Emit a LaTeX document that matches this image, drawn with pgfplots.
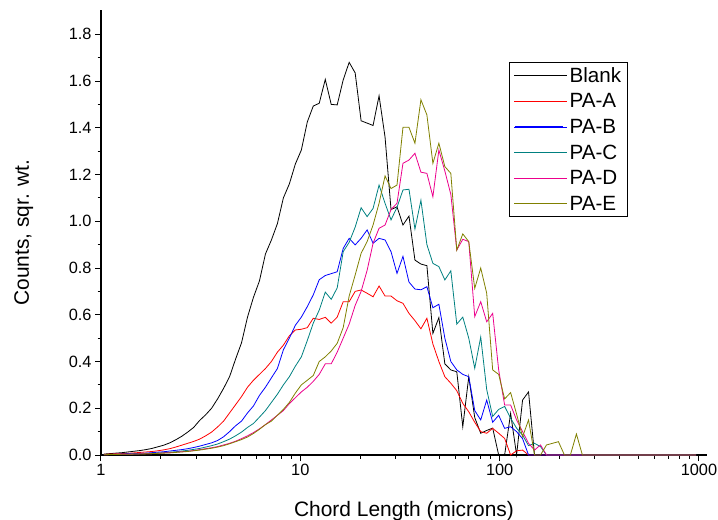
\documentclass[border=0pt]{standalone}
\usepackage{fontspec}
\setmainfont{Liberation Sans}
\usepackage{pgfplots}
\pgfplotsset{compat=1.18}
\usepackage{pgfplotstable}
\definecolor{cC}{RGB}{0,128,128}
\definecolor{cE}{RGB}{128,128,0}

\pgfplotstableread{
x blank a b c d e
1.035 0.004 0.003 0.002 0.002 0.001 0.001
1.109 0.006 0.004 0.002 0.002 0.002 0.002
1.189 0.008 0.005 0.003 0.002 0.002 0.002
1.274 0.010 0.006 0.004 0.003 0.003 0.003
1.365 0.013 0.007 0.005 0.003 0.003 0.003
1.462 0.016 0.009 0.006 0.004 0.004 0.004
1.567 0.019 0.011 0.007 0.005 0.005 0.004
1.679 0.023 0.013 0.008 0.006 0.005 0.005
1.799 0.028 0.015 0.010 0.007 0.006 0.006
1.928 0.035 0.018 0.012 0.008 0.007 0.007
2.065 0.042 0.022 0.014 0.010 0.009 0.008
2.213 0.052 0.027 0.017 0.012 0.010 0.009
2.371 0.065 0.034 0.020 0.014 0.012 0.011
2.541 0.080 0.042 0.023 0.017 0.014 0.013
2.723 0.098 0.050 0.027 0.020 0.016 0.015
2.917 0.118 0.058 0.032 0.024 0.019 0.018
3.126 0.148 0.068 0.038 0.028 0.023 0.021
3.350 0.172 0.082 0.045 0.034 0.027 0.025
3.589 0.200 0.098 0.052 0.040 0.031 0.029
3.846 0.240 0.120 0.062 0.047 0.036 0.034
4.121 0.285 0.145 0.078 0.057 0.043 0.040
4.416 0.335 0.180 0.100 0.068 0.050 0.048
4.732 0.410 0.215 0.125 0.082 0.059 0.057
5.070 0.480 0.250 0.145 0.098 0.070 0.066
5.433 0.590 0.290 0.180 0.118 0.082 0.077
5.821 0.675 0.320 0.210 0.135 0.096 0.092
6.237 0.745 0.345 0.255 0.162 0.112 0.110
6.683 0.860 0.370 0.290 0.190 0.130 0.130
7.161 0.920 0.400 0.330 0.225 0.150 0.145
7.674 0.990 0.440 0.370 0.260 0.170 0.170
8.222 1.100 0.470 0.450 0.300 0.190 0.195
8.810 1.160 0.510 0.500 0.335 0.220 0.225
9.441 1.245 0.535 0.555 0.380 0.245 0.265
10.12 1.305 0.538 0.590 0.420 0.270 0.300
10.84 1.425 0.545 0.635 0.490 0.290 0.320
11.61 1.493 0.585 0.685 0.564 0.315 0.340
12.44 1.505 0.580 0.750 0.620 0.345 0.400
13.34 1.607 0.589 0.768 0.697 0.390 0.420
14.29 1.500 0.564 0.776 0.666 0.390 0.445
15.31 1.498 0.590 0.784 0.715 0.440 0.478
16.41 1.605 0.656 0.884 0.870 0.500 0.545
17.58 1.680 0.656 0.927 0.910 0.560 0.680
18.84 1.635 0.700 0.899 0.975 0.640 0.770
20.18 1.430 0.706 0.927 1.058 0.700 0.863
21.63 1.420 0.692 0.963 1.020 0.790 0.913
23.17 1.410 0.677 0.906 1.055 0.906 0.984
24.83 1.537 0.723 0.927 1.155 0.970 1.077
26.61 1.360 0.680 0.920 1.077 0.984 1.194
28.51 1.050 0.680 0.870 1.006 1.050 1.140
30.55 1.062 0.660 0.777 1.060 1.077 1.155
32.73 0.984 0.649 0.850 1.134 1.248 1.402
35.08 1.022 0.606 0.740 1.137 1.262 1.402
37.58 0.834 0.575 0.710 0.967 1.291 1.334
40.27 0.817 0.540 0.707 1.090 1.210 1.520
43.15 0.810 0.585 0.720 0.900 1.205 1.455
46.24 0.520 0.475 0.630 0.820 1.105 1.248
49.55 0.588 0.400 0.645 0.806 1.305 1.334
53.09 0.390 0.335 0.500 0.749 1.215 1.234
56.89 0.364 0.307 0.400 0.788 1.115 1.205
60.95 0.356 0.275 0.364 0.560 0.877 0.877
65.31 0.121 0.221 0.345 0.590 0.923 0.946
69.98 0.335 0.185 0.335 0.500 0.913 0.913
74.99 0.160 0.140 0.190 0.371 0.592 0.713
80.35 0.093 0.100 0.150 0.505 0.656 0.800
86.10 0.105 0.093 0.235 0.280 0.570 0.692
92.26 0.115 0.114 0.140 0.165 0.606 0.364
98.86 0.000 0.093 0.170 0.195 0.364 0.345
105.9 0.000 0.071 0.114 0.208 0.214 0.240
113.5 0.178 0.000 0.121 0.157 0.214 0.267
121.6 0.000 0.018 0.100 0.115 0.150 0.175
130.3 0.235 0.021 0.070 0.085 0.100 0.078
139.6 0.270 0.000 0.000 0.040 0.050 0.150
149.6 0.000 0.000 0.000 0.050 0.021 0.000
160.3 0.000 0.000 0.000 0.036 0.043 0.000
171.8 0.000 0.000 0.000 0.000 0.000 0.043
184.1 0.000 0.000 0.000 0.000 0.000 0.050
197.2 0.000 0.000 0.000 0.000 0.000 0.057
211.3 0.000 0.000 0.000 0.000 0.000 0.000
226.4 0.000 0.000 0.000 0.000 0.000 0.000
242.7 0.000 0.000 0.000 0.000 0.000 0.090
260.0 0.000 0.000 0.000 0.000 0.000 0.000
966.0 0.000 0.000 0.000 0.000 0.000 0.000
}\data

\begin{document}
\begin{tikzpicture}
\begin{axis}[
  scale only axis, width=606bp, height=445bp,
  at={(0,0)}, anchor=south west,
  xmode=log, xmin=1, xmax=1097, ymin=0, ymax=1.904,
  clip=false,
  axis x line=bottom, axis y line=left,
  axis line style={-, line width=1.2bp, black},
  xtick={1,10,100,1000}, xticklabels={1,10,100,1000},
  minor xtick={2,3,4,5,6,7,8,9,20,30,40,50,60,70,80,90,200,300,400,500,600,700,800,900},
  ytick={0,0.2,0.4,0.6,0.8,1.0,1.2,1.4,1.6,1.8},
  minor ytick={0.1,0.3,0.5,0.7,0.9,1.1,1.3,1.5,1.7},
  tick align=outside, major tick length=6bp, minor tick length=3.5bp,
  every tick/.style={black, line width=1bp},
  /pgf/number format/assume math mode=true,
  yticklabel style={/pgf/number format/.cd, fixed, fixed zerofill, precision=1},
  ticklabel style={font=\fontsize{16.4}{19}\selectfont},
  xlabel={Chord Length (microns)}, ylabel={Counts, sqr. wt.},
  label style={font=\fontsize{21}{25}\selectfont},
  xlabel style={at={(axis description cs:0.5,-0.1387)}, anchor=base},
  ylabel style={at={(axis description cs:-0.1276,0.5)}, anchor=center},
  legend style={at={(axis description cs:0.6738,0.8825)}, anchor=north west,
    draw=black, line width=0.8bp, inner xsep=4bp, inner ysep=2.5bp,
    font=\fontsize{20.7}{24}\selectfont,
    row sep=5.9bp, column sep=0bp},
  legend cell align=left,
  legend image code/.code={\path (0bp,0bp) -- (53.1bp,0bp); \draw[#1, line width=1.1bp] (0.7bp,0bp) -- (48.4bp,0bp);},
]
\addplot[black, line width=0.8bp] table[x=x, y=blank]{\data};
\addlegendentry{Blank}
\addplot[red, line width=0.8bp] table[x=x, y=a]{\data};
\addlegendentry{PA-A}
\addplot[blue, line width=0.8bp] table[x=x, y=b]{\data};
\addlegendentry{PA-B}
\addplot[cC, line width=0.8bp] table[x=x, y=c]{\data};
\addlegendentry{PA-C}
\addplot[magenta, line width=0.8bp] table[x=x, y=d]{\data};
\addlegendentry{PA-D}
\addplot[cE, line width=0.8bp] table[x=x, y=e]{\data};
\addlegendentry{PA-E}
\end{axis}
\pgfresetboundingbox
\path[use as bounding box] (-101bp,-65bp) rectangle (617bp,455bp);
\end{tikzpicture}
\end{document}
